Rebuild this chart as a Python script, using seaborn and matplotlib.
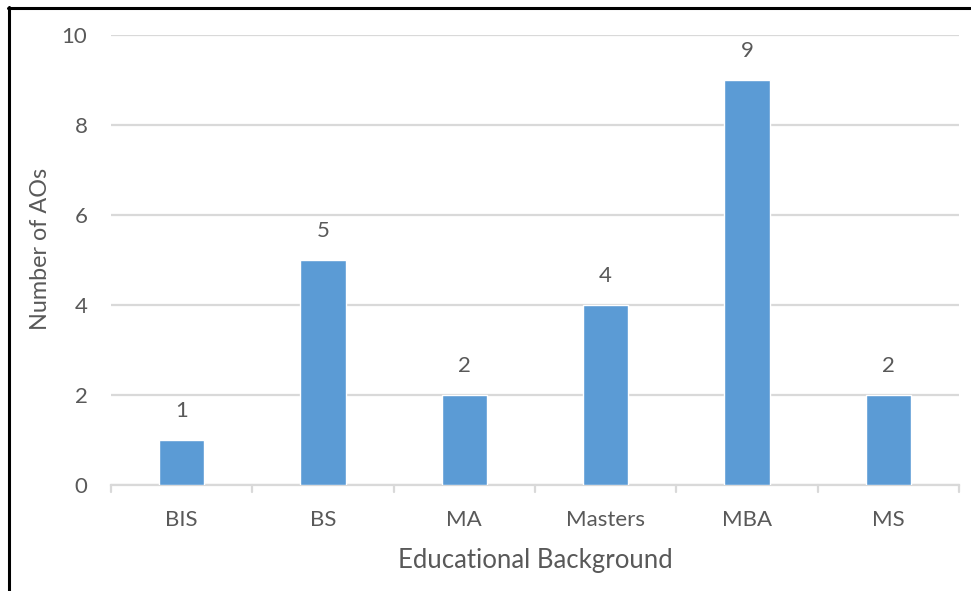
import matplotlib
matplotlib.use("Agg")
import matplotlib.pyplot as plt
from matplotlib.lines import Line2D
import seaborn as sns
import pandas as pd

categories = ["BIS", "BS", "MA", "Masters", "MBA", "MS"]
counts = [1, 5, 2, 4, 9, 2]
y_ticks = [0, 2, 4, 6, 8, 10]

df = pd.DataFrame({"Educational Background": categories, "Number of AOs": counts})

sns.set_theme(style="white")
plt.rcParams["font.family"] = ["Lato", "DejaVu Sans"]

text_color = "#595959"
grid_color = "#D9D9D9"
bar_color = "#5B9BD5"

fig = plt.figure(figsize=(9.71, 5.91), dpi=100)
ax = fig.add_axes([111 / 971, 1 - 485 / 591, (959 - 111) / 971, (485 - 35) / 591])

sns.barplot(data=df, x="Educational Background", y="Number of AOs",
            color=bar_color, saturation=1, width=0.32, ax=ax, zorder=3)

ax.set_ylim(0, 10)
ax.set_xlim(-0.5, len(categories) - 0.5)
ax.set_yticks(y_ticks)
ax.yaxis.grid(True, color=grid_color, linewidth=1.6, zorder=0)
ax.set_axisbelow(True)

for side in ("top", "right", "left"):
    ax.spines[side].set_visible(False)
ax.spines["bottom"].set_color(grid_color)
ax.spines["bottom"].set_linewidth(1.6)

# category boundary ticks along the x axis
ax.set_xticks(range(len(categories)))
ax.set_xticklabels(categories)
ax.tick_params(axis="x", length=0, pad=18, labelsize=16, labelcolor=text_color)
ax.tick_params(axis="y", length=0, pad=17, labelsize=16, labelcolor=text_color)
for b in [i - 0.5 for i in range(len(categories) + 1)]:
    ax.plot([b, b], [0, -0.16], color=grid_color, linewidth=1.6,
            clip_on=False, zorder=2)

for i, v in enumerate(counts):
    ax.text(i, v + 0.42, str(v), ha="center", va="bottom",
            fontsize=16, color=text_color)

ax.set_xlabel("Educational Background", fontsize=18.5, color=text_color, labelpad=13)
ax.set_ylabel("Number of AOs", fontsize=16.8, color=text_color)
ax.yaxis.set_label_coords(-0.071, 0.525)

# frame edges on the left and top
fig.add_artist(Line2D([9 / 971, 9 / 971], [0, 1 - 7 / 591], color="black",
                      linewidth=2.2, transform=fig.transFigure))
fig.add_artist(Line2D([8 / 971, 970 / 971], [1 - 8 / 591, 1 - 8 / 591], color="black",
                      linewidth=2.2, transform=fig.transFigure))

fig.savefig("out.png", dpi=100, facecolor="white")
